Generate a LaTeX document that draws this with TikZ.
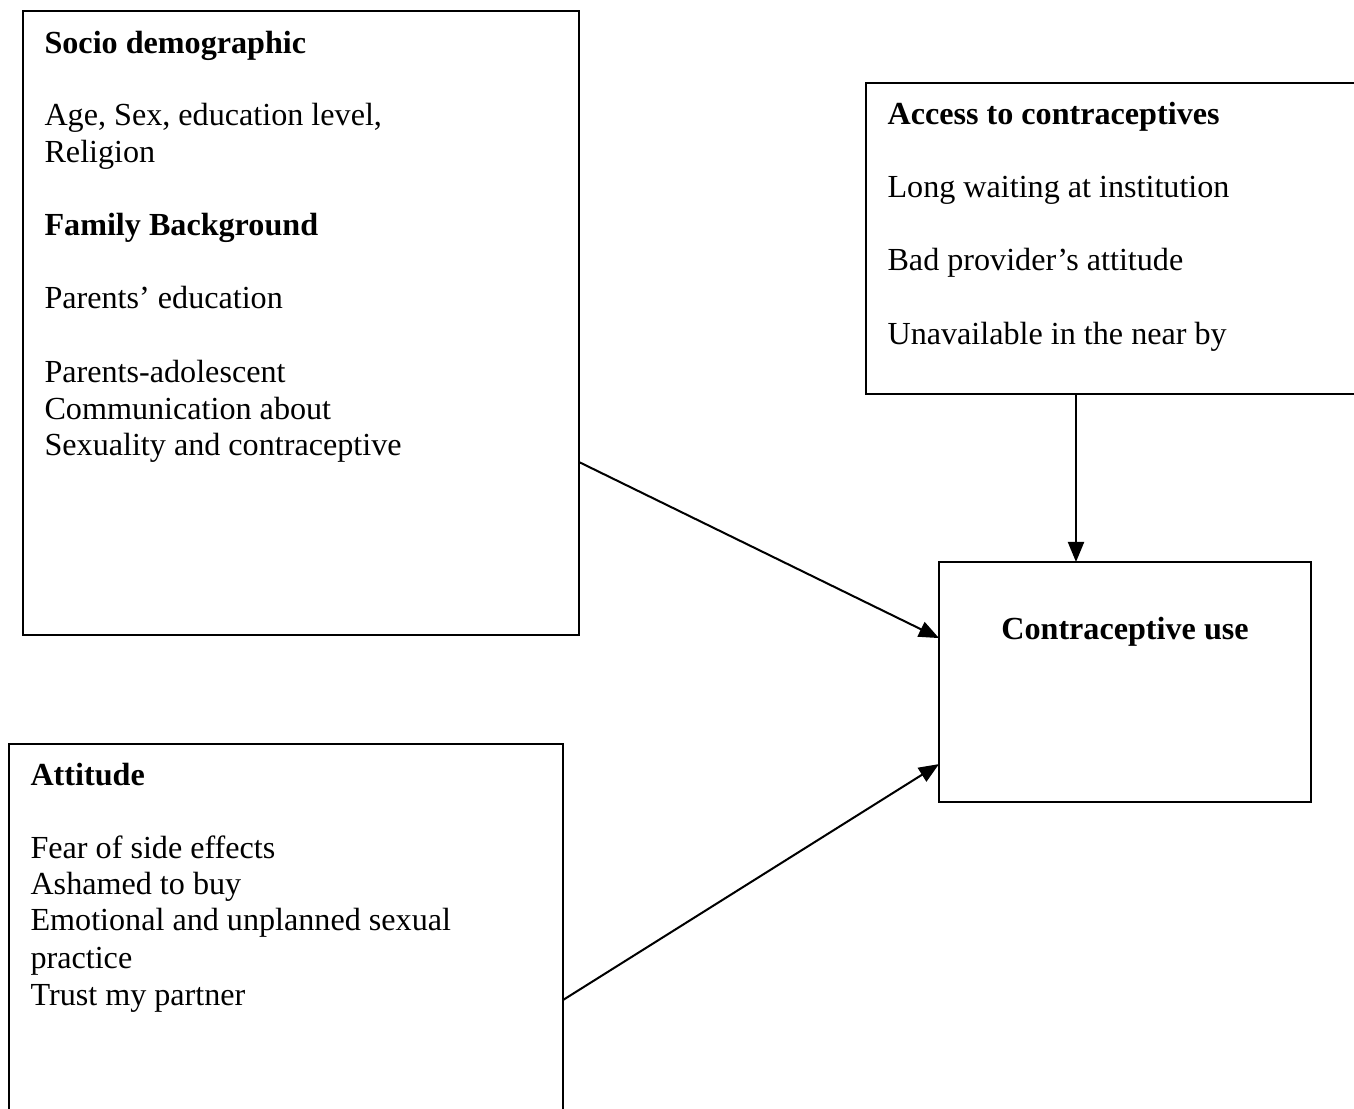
\documentclass[tikz,border=0pt]{standalone}
\usepackage{fontspec}
\setmainfont{Liberation Serif}
\usetikzlibrary{arrows.meta,calc}
\begin{document}
\begin{tikzpicture}[x=0.3733pt,y=-0.3733pt,
  box/.style={draw,line width=0.75pt,anchor=north west,inner sep=0pt,outer sep=0pt},
  txt/.style={anchor=base west,inner sep=0pt,font=\fontsize{12}{13.8}\selectfont},
  hd/.style={txt,font=\fontsize{12}{13.8}\selectfont\bfseries},
  conn/.style={line width=0.75pt,-{Triangle[length=7.5pt,width=6pt]}}]
\useasboundingbox (0,0) rectangle (1354,1109);
% boxes
\node[box,minimum width=556*0.3733pt,minimum height=624*0.3733pt] (socio) at (23,11) {};
\node[box,minimum width=500*0.3733pt,minimum height=311*0.3733pt] (access) at (866,83) {};
\node[box,minimum width=372*0.3733pt,minimum height=240*0.3733pt] (use) at (939,562) {};
\node[box,minimum width=554*0.3733pt,minimum height=380*0.3733pt] (att) at (9,744) {};
% socio texts
\node[hd] (s1) at (44,53) {Socio demographic};
\node[txt] (s2) at (44,125) {Age, Sex, education level,};
\node[txt] (s3) at (44,162) {Religion};
\node[hd] (s4) at (44,235) {Family Background};
\node[txt] (s5) at (44,308) {Parents’ education};
\node[txt] (s6) at (44,382) {Parents-adolescent};
\node[txt] (s7) at (44,419) {Communication about};
\node[txt] (s8) at (44,455) {Sexuality and contraceptive};
% access texts
\node[hd] (a1) at (887,124) {Access to contraceptives};
\node[txt] (a2) at (887,197) {Long waiting at institution};
\node[txt] (a3) at (887,270) {Bad provider’s attitude};
\node[txt] (a4) at (887,344) {Unavailable in the near by};
% use text
\node[hd,anchor=base] (u1) at (1125,639) {Contraceptive use};
% attitude texts
\node[hd] (t1) at (30,785) {Attitude};
\node[txt] (t2) at (30,858) {Fear of side effects};
\node[txt] (t3) at (30,894) {Ashamed to buy};
\node[txt] (t4) at (30,930) {Emotional and unplanned sexual};
\node[txt] (t5) at (30,968) {practice};
\node[txt] (t6) at (30,1005) {Trust my partner};
% connector points
\coordinate (sOut) at ($(socio.north east)!0.7228!(socio.south east)$);
\coordinate (uIn1) at ($(use.north west)!0.317!(use.south west)$);
\coordinate (aOut) at ($(att.north east)!0.6737!(att.south east)$);
\coordinate (uIn2) at ($(use.north west)!0.842!(use.south west)$);
\coordinate (accOut) at ($(access.south west)+(210,0)$);
\coordinate (useIn) at ($(use.north west)+(137,0)$);
\draw[conn] (sOut) -- (uIn1);
\draw[conn] (aOut) -- (uIn2);
\draw[conn] (accOut) -- (useIn);
\end{tikzpicture}
\end{document}
